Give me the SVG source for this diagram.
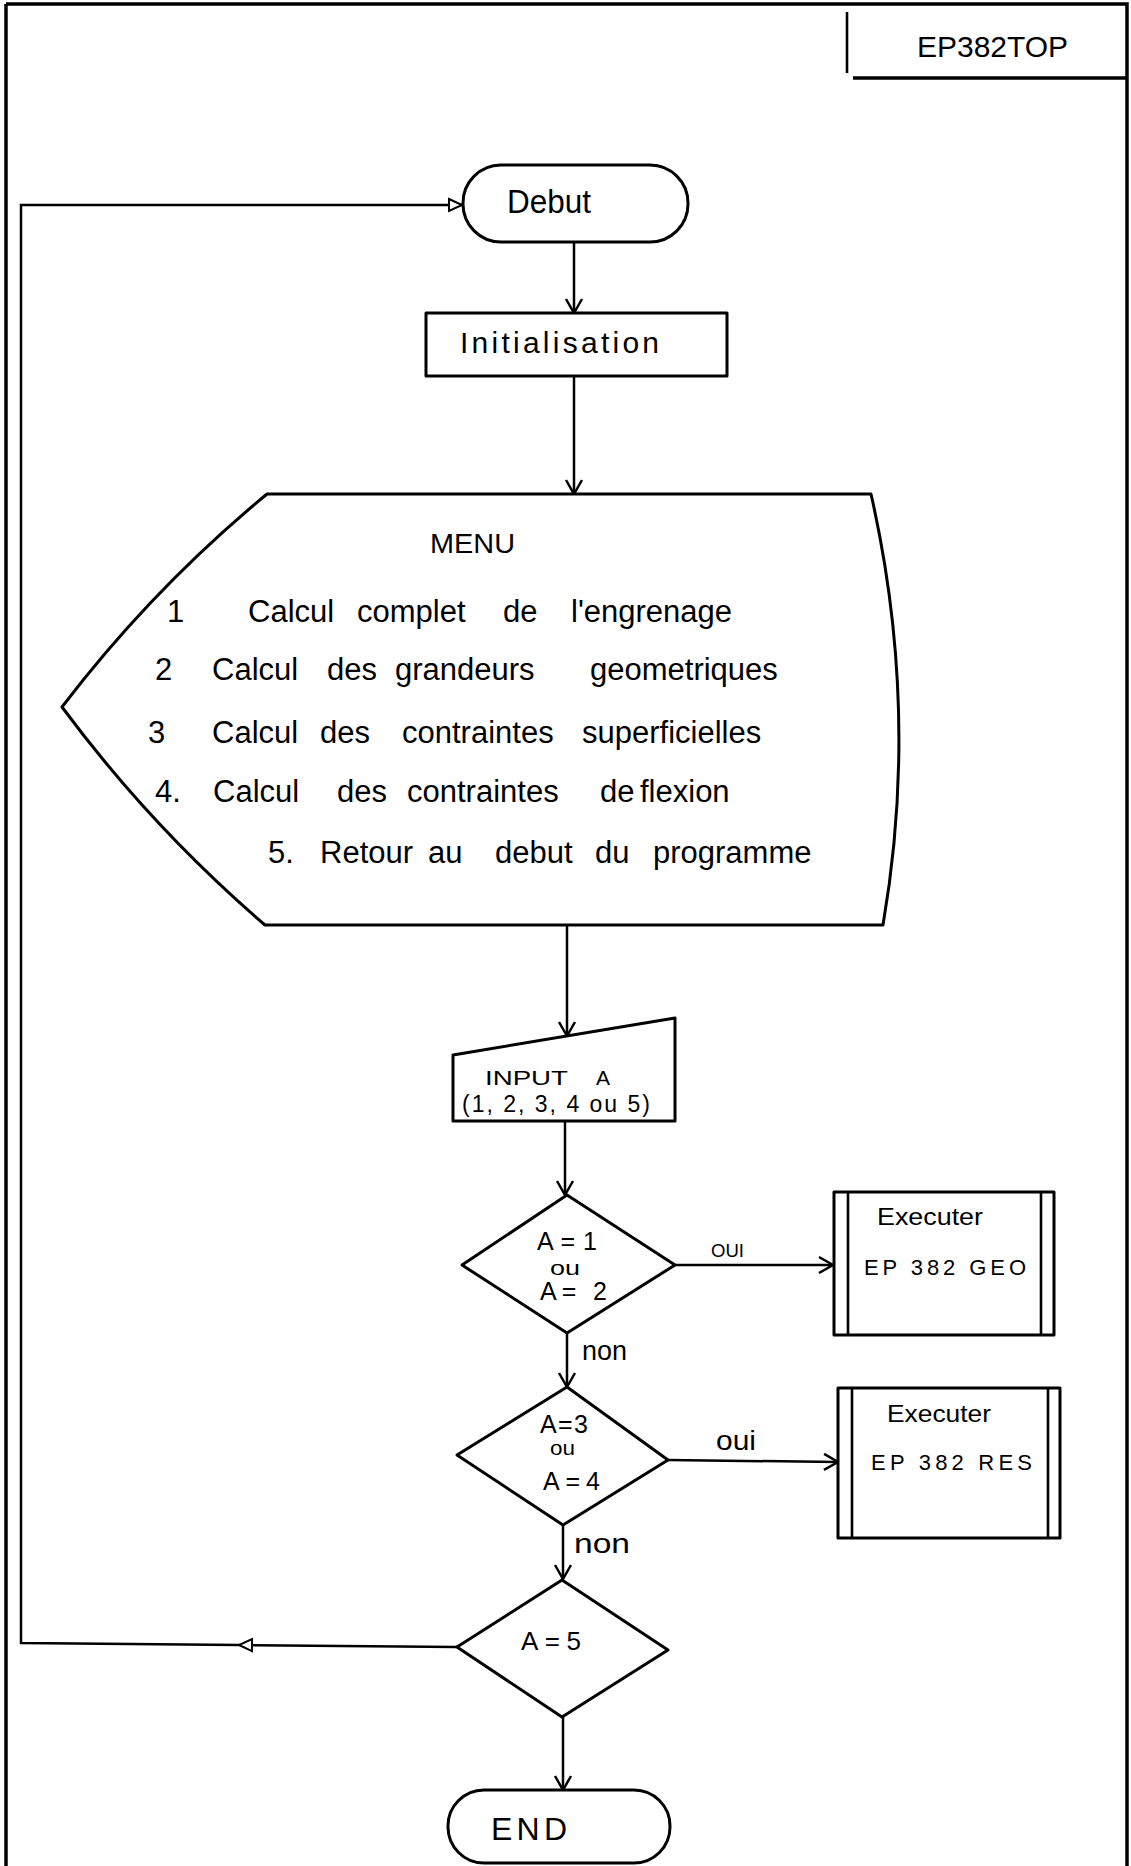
<svg xmlns="http://www.w3.org/2000/svg" width="1131" height="1866" viewBox="0 0 1131 1866">
  <defs>
    <style>
      .frame { fill: none; stroke: #000; stroke-width: 3.5; }
      .shape { fill: #fff; stroke: #000; stroke-width: 3; stroke-linejoin: round; }
      .line { fill: none; stroke: #000; stroke-width: 2.6; }
      .conn { fill: none; stroke: #000; stroke-width: 2.5; }
      text { font-family: "Liberation Sans", Arial, sans-serif; fill: #000; }
      .menu { font-size: 31px; }
      .lbl { font-size: 25px; }
    </style>
    <!-- open V arrowhead -->
    <marker id="vee" markerUnits="userSpaceOnUse" markerWidth="20" markerHeight="20" viewBox="-16 -10 18 20" refX="0" refY="0" orient="auto">
      <path d="M -14 -8 L 0 0 L -14 8" fill="none" stroke="#000" stroke-width="2.5"/>
    </marker>
    <!-- hollow triangle arrowhead for the return loop -->
    <marker id="tri" markerUnits="userSpaceOnUse" markerWidth="20" markerHeight="20" viewBox="-16 -10 18 20" refX="0" refY="0" orient="auto">
      <path d="M -13 -6 L 0 0 L -13 6 Z" fill="#fff" stroke="#000" stroke-width="2"/>
    </marker>
  </defs>

  <rect width="1131" height="1866" fill="#fff"/>

  <!-- page frame and title block -->
  <g id="frame">
    <path class="frame" d="M 1127 1866 V 4 H 6"/>
    <path class="frame" d="M 6 4 V 1866" stroke-width="4.5"/>
    <path class="line" d="M 847 12 V 73"/>
    <path class="frame" d="M 853 78 H 1127" stroke-width="3"/>
    <text x="917" y="57" font-size="30" textLength="151" lengthAdjust="spacingAndGlyphs">EP382TOP</text>
  </g>

  <!-- connectors -->
  <g id="connectors">
    <path class="conn" d="M 574 242 V 313" marker-end="url(#vee)"/>
    <path class="conn" d="M 574 377 V 494" marker-end="url(#vee)"/>
    <path class="conn" d="M 567 925 V 1036" marker-end="url(#vee)"/>
    <path class="conn" d="M 565 1121 V 1195" marker-end="url(#vee)"/>
    <path class="conn" d="M 675 1265 H 833" marker-end="url(#vee)"/>
    <path class="conn" d="M 567 1333 V 1387" marker-end="url(#vee)"/>
    <path class="conn" d="M 668 1460 L 838 1462" marker-end="url(#vee)"/>
    <path class="conn" d="M 563 1525 V 1579" marker-end="url(#vee)"/>
    <path class="conn" d="M 563 1717 V 1790" marker-end="url(#vee)"/>
    <path class="conn" d="M 457 1647 L 239 1645" marker-end="url(#tri)"/>
    <path class="conn" d="M 239 1645 L 21 1643 V 205 H 462" marker-end="url(#tri)"/>
    <text x="711" y="1257" font-size="18" textLength="33" lengthAdjust="spacingAndGlyphs">OUI</text>
    <text x="582" y="1360" font-size="27" textLength="45" lengthAdjust="spacingAndGlyphs">non</text>
    <text x="716" y="1450" font-size="28" textLength="40" lengthAdjust="spacingAndGlyphs">oui</text>
    <text x="574" y="1553" font-size="27" textLength="56" lengthAdjust="spacingAndGlyphs">non</text>
  </g>

  <g id="debut">
    <rect class="shape" x="463" y="165" width="225" height="77" rx="38" ry="38"/>
    <text x="507" y="213" font-size="34" textLength="84" lengthAdjust="spacingAndGlyphs">Debut</text>
  </g>

  <g id="initialisation">
    <rect class="shape" x="426" y="313" width="301" height="63"/>
    <text x="460" y="353" font-size="30" textLength="199" lengthAdjust="spacing">Initialisation</text>
  </g>

  <g id="menu">
    <path class="shape" d="M 267 494 L 871 494 Q 920 710 883 925 L 265 925 Q 151 827 62 707 Q 152 589 267 494 Z"/>
    <text x="430" y="553" font-size="27" textLength="85" lengthAdjust="spacingAndGlyphs">MENU</text>
    <text class="menu" y="622"><tspan x="167">1</tspan><tspan x="248">Calcul</tspan><tspan x="357">complet</tspan><tspan x="503">de</tspan><tspan x="571">l'engrenage</tspan></text>
    <text class="menu" y="680"><tspan x="155">2</tspan><tspan x="212">Calcul</tspan><tspan x="327">des</tspan><tspan x="395">grandeurs</tspan><tspan x="590">geometriques</tspan></text>
    <text class="menu" y="743"><tspan x="148">3</tspan><tspan x="212">Calcul</tspan><tspan x="320">des</tspan><tspan x="402">contraintes</tspan><tspan x="582">superficielles</tspan></text>
    <text class="menu" y="802"><tspan x="155">4.</tspan><tspan x="213">Calcul</tspan><tspan x="337">des</tspan><tspan x="407">contraintes</tspan><tspan x="600">de</tspan><tspan x="640">flexion</tspan></text>
    <text class="menu" y="863"><tspan x="268">5.</tspan><tspan x="320">Retour</tspan><tspan x="428">au</tspan><tspan x="495">debut</tspan><tspan x="595">du</tspan><tspan x="653">programme</tspan></text>
  </g>

  <g id="input">
    <path class="shape" d="M 453 1055 L 675 1018 L 675 1121 L 453 1121 Z"/>
    <text y="1085" font-size="21"><tspan x="485" textLength="83" lengthAdjust="spacingAndGlyphs">INPUT</tspan><tspan x="596">A</tspan></text>
    <text x="462" y="1112" font-size="23" textLength="188" lengthAdjust="spacing">(1, 2, 3, 4 ou 5)</text>
  </g>

  <g id="test-1-2">
    <path class="shape" d="M 567 1195 L 675 1265 L 567 1333 L 462 1265 Z"/>
    <text x="537" y="1250" class="lbl" textLength="60" lengthAdjust="spacing">A = 1</text>
    <text x="550" y="1275" font-size="20" textLength="30" lengthAdjust="spacingAndGlyphs">ou</text>
    <text x="540" y="1300" class="lbl" textLength="67" lengthAdjust="spacing">A= 2</text>
  </g>

  <g id="geo">
    <rect class="shape" x="834" y="1192" width="220" height="143"/>
    <path class="line" d="M 848 1192 V 1335 M 1041 1192 V 1335"/>
    <text x="877" y="1225" font-size="24" textLength="106" lengthAdjust="spacingAndGlyphs">Executer</text>
    <text x="864" y="1275" font-size="22" textLength="162" lengthAdjust="spacing">EP 382 GEO</text>
  </g>

  <g id="test-3-4">
    <path class="shape" d="M 567 1387 L 668 1460 L 563 1525 L 457 1455 Z"/>
    <text x="540" y="1433" class="lbl" textLength="48" lengthAdjust="spacing">A=3</text>
    <text x="550" y="1455" font-size="20" textLength="25" lengthAdjust="spacingAndGlyphs">ou</text>
    <text x="543" y="1490" class="lbl" textLength="57" lengthAdjust="spacing">A=4</text>
  </g>

  <g id="res">
    <rect class="shape" x="838" y="1388" width="222" height="150"/>
    <path class="line" d="M 852 1388 V 1538 M 1048 1388 V 1538"/>
    <text x="887" y="1422" font-size="24" textLength="104" lengthAdjust="spacingAndGlyphs">Executer</text>
    <text x="871" y="1470" font-size="22" textLength="161" lengthAdjust="spacing">EP 382 RES</text>
  </g>

  <g id="test-5">
    <path class="shape" d="M 562 1580 L 668 1650 L 562 1717 L 457 1647 Z"/>
    <text x="521" y="1650" font-size="26" textLength="60" lengthAdjust="spacing">A=5</text>
  </g>

  <g id="end">
    <rect class="shape" x="448" y="1790" width="222" height="73" rx="36" ry="36"/>
    <text x="491" y="1840" font-size="32" textLength="76" lengthAdjust="spacing">END</text>
  </g>
</svg>
